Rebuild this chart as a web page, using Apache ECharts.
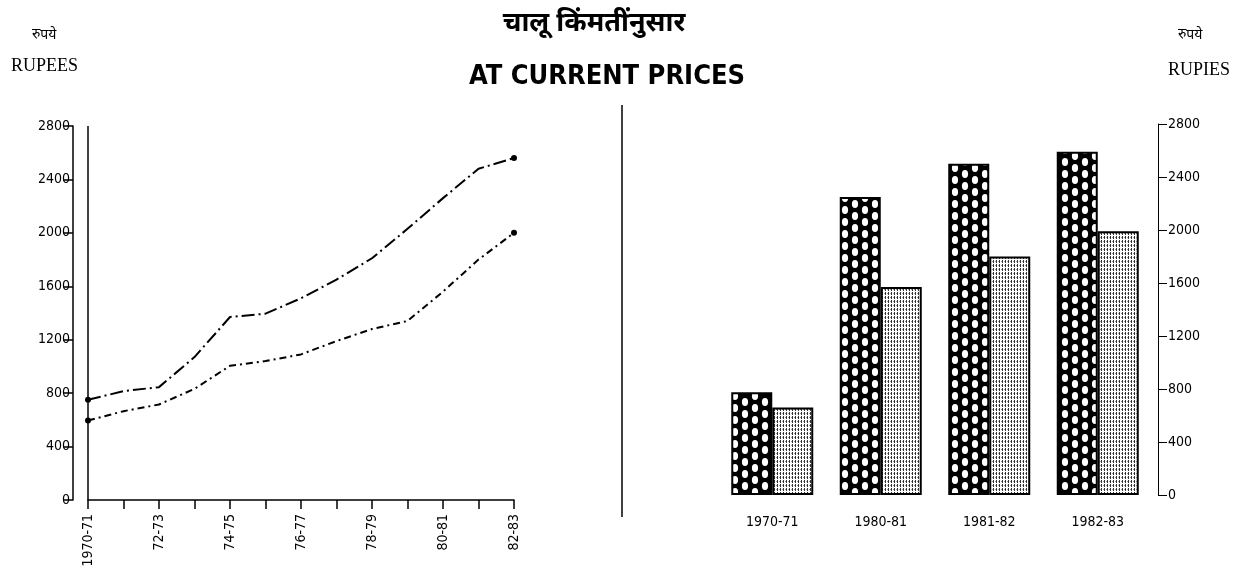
<!DOCTYPE html>
<html>
<head>
<meta charset="utf-8">
<script src="https://cdn.jsdelivr.net/npm/echarts@6/dist/echarts.min.js"></script>
<style>
html,body{margin:0;padding:0;background:#fff;}
#chart{width:1246px;height:581px;}
</style>
</head>
<body>
<div id="chart"></div>
<script>
// ---- data ----
var lineCategories = ['1970-71','71-72','72-73','73-74','74-75','75-76','76-77','77-78','78-79','79-80','80-81','81-82','82-83'];
var upperLine = [750, 815, 845, 1070, 1370, 1395, 1510, 1650, 1810, 2030, 2260, 2480, 2560];
var lowerLine = [595, 665, 715, 832, 1005, 1040, 1090, 1190, 1280, 1340, 1560, 1800, 2000];
var barCategories = ['1970-71','1980-81','1981-82','1982-83'];
var darkBars = [775, 2250, 2500, 2590];
var lightBars = [660, 1570, 1800, 1990];

// ---- patterns ----
function dotPattern(){
  var c = document.createElement('canvas'); c.width = 20; c.height = 12;
  var g = c.getContext('2d');
  g.fillStyle = '#000'; g.fillRect(0,0,20,12);
  g.fillStyle = '#fff';
  [[5,6],[15,0],[15,12]].forEach(function(p){
    g.beginPath(); g.ellipse(p[0], p[1], 3.1, 4.1, 0, 0, Math.PI*2); g.fill();
  });
  return c;
}
function hatchPattern(){
  var c = document.createElement('canvas'); c.width = 3; c.height = 4;
  var g = c.getContext('2d');
  g.fillStyle = '#fff'; g.fillRect(0,0,3,4);
  g.fillStyle = '#333';
  g.fillRect(0,0,1,3);
  g.fillStyle = '#999';
  g.fillRect(2,1,1,1);
  return c;
}

var chart = echarts.init(document.getElementById('chart'), null, {renderer:'canvas'});
var lastIdx = lineCategories.length - 1;
function endSym(v, p){ return (p.dataIndex === 0 || p.dataIndex === lastIdx) ? 6 : 0; }
function plain(v){ return String(v); }

var axisFont = "'DejaVu Sans Condensed','Liberation Sans Narrow','DejaVu Sans',sans-serif";

var option = {
  backgroundColor: '#fff',
  animation: false,
  title: [
    {text: 'चालू किंमतींनुसार', left: 589, top: 5, textAlign: 'center',
     textStyle: {fontSize: 27, fontWeight: 'bold', color: '#000', fontFamily: "'Noto Sans','Noto Sans CJK SC',sans-serif"}},
    {text: 'AT CURRENT PRICES', left: 602, top: 58, textAlign: 'center',
     textStyle: {fontSize: 27, fontWeight: 'bold', color: '#000', fontFamily: "'Liberation Sans Narrow','DejaVu Sans Condensed','Liberation Sans',sans-serif"}},
    {text: 'रुपये', left: 27, top: 23, textStyle: {fontSize: 14, fontWeight: 'normal', color: '#000', fontFamily: "'Noto Sans',serif"}},
    {text: 'RUPEES', left: 6, top: 52, textStyle: {fontSize: 18, fontWeight: 'normal', color: '#000', fontFamily: "'Liberation Serif',serif"}},
    {text: 'रुपये', left: 1173, top: 23, textStyle: {fontSize: 14, fontWeight: 'normal', color: '#000', fontFamily: "'Noto Sans',serif"}},
    {text: 'RUPIES', left: 1163, top: 56, textStyle: {fontSize: 18, fontWeight: 'normal', color: '#000', fontFamily: "'Liberation Serif',serif"}}
  ],
  graphic: [
    {type: 'line', shape: {x1: 622, y1: 105, x2: 622, y2: 517}, style: {stroke: '#000', lineWidth: 1.5}}
  ],
  grid: [
    {left: 88, right: 732, top: 126, bottom: 81, containLabel: false},
    {left: 718, right: 94, top: 124, bottom: 86, containLabel: false}
  ],
  xAxis: [
    {type: 'category', gridIndex: 0, data: lineCategories, boundaryGap: false,
     axisLine: {lineStyle: {color: '#000', width: 1.5}},
     axisTick: {interval: 0, length: 9, lineStyle: {color: '#000', width: 1.5}},
     axisLabel: {interval: 1, rotate: 90, margin: 14, fontSize: 14, color: '#000', fontFamily: axisFont}},
    {type: 'category', gridIndex: 1, data: barCategories,
     axisLine: {show: false}, axisTick: {show: false},
     axisLabel: {margin: 20, fontSize: 14, color: '#000', fontFamily: axisFont}}
  ],
  yAxis: [
    {type: 'value', gridIndex: 0, min: 0, max: 2800, interval: 400, offset: 15,
     axisLine: {show: true, lineStyle: {color: '#000', width: 1.5}},
     axisTick: {show: true, length: 10, lineStyle: {color: '#000', width: 1.5}},
     splitLine: {show: false},
     axisLabel: {margin: 3, fontSize: 14, color: '#000', fontFamily: axisFont, formatter: plain}},
    {type: 'value', gridIndex: 1, position: 'right', min: 0, max: 2800, interval: 400, offset: 6,
     axisLine: {show: true, lineStyle: {color: '#000', width: 1}},
     axisTick: {show: true, length: 9, lineStyle: {color: '#000', width: 1}},
     splitLine: {show: false},
     axisLabel: {margin: 10, fontSize: 14, color: '#000', fontFamily: axisFont, formatter: plain}}
  ],
  series: [
    {name: 'upper', type: 'line', xAxisIndex: 0, yAxisIndex: 0, data: upperLine,
     symbol: 'circle', symbolSize: endSym, itemStyle: {color: '#000'},
     lineStyle: {color: '#000', width: 2, type: [13, 4, 2, 4]},
     markLine: {silent: true, symbol: 'none', label: {show: false},
       lineStyle: {color: '#000', width: 1.5, type: 'solid'},
       data: [{xAxis: 0}]}},
    {name: 'lower', type: 'line', xAxisIndex: 0, yAxisIndex: 0, data: lowerLine,
     symbol: 'circle', symbolSize: endSym, itemStyle: {color: '#000'},
     lineStyle: {color: '#000', width: 2, type: [7, 4, 2, 4]}},
    {name: 'dark', type: 'bar', xAxisIndex: 1, yAxisIndex: 1, data: darkBars,
     barWidth: 41, barGap: '0%',
     itemStyle: {color: {image: dotPattern(), repeat: 'repeat'}, borderColor: '#000', borderWidth: 2}},
    {name: 'light', type: 'bar', xAxisIndex: 1, yAxisIndex: 1, data: lightBars,
     barWidth: 41, barGap: '0%',
     itemStyle: {color: {image: hatchPattern(), repeat: 'repeat'}, borderColor: '#000', borderWidth: 2}}
  ]
};
chart.setOption(option);
</script>
</body>
</html>
